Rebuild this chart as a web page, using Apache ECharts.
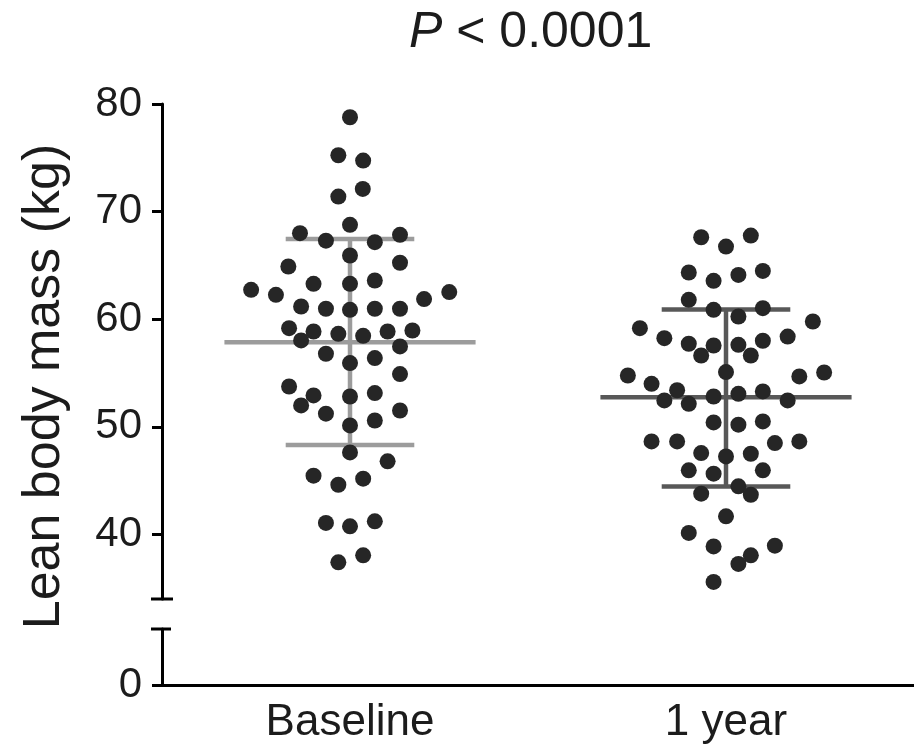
<!DOCTYPE html>
<html>
<head>
<meta charset="utf-8">
<script src="https://cdn.jsdelivr.net/npm/echarts@6/dist/echarts.min.js"></script>
<style>
  html, body { margin: 0; padding: 0; background: #fff; }
  #chart { width: 914px; height: 749px; }
</style>
</head>
<body>
<div id="chart"></div>
<script>
// Groups on the x axis
const categories = ['Baseline', '1 year'];

// Lean body mass (kg) of each subject, with its horizontal spread offset (category units)
const baselineValues = [
  78.77, 75.24, 74.74, 72.11, 71.40, 68.77, 68.00, 67.30, 67.16, 67.84,
  65.92, 64.90, 65.25, 63.29, 63.60, 63.29, 62.73, 62.27, 61.87, 62.52,
  61.18, 60.97, 60.87, 60.97, 60.97, 59.17, 58.86, 58.64, 58.46, 58.86,
  58.95, 58.03, 57.47, 56.79, 55.92, 56.39, 54.90, 53.75, 52.92, 51.99,
  52.82, 53.14, 51.22, 51.52, 50.13, 50.59, 47.62, 46.79, 45.46, 44.62,
  45.18, 41.07, 40.75, 41.22, 37.41, 38.06
];
const baselineOffsets = [
  0, -0.031, 0.035, 0.034, -0.031, 0, -0.133, -0.064, 0.066, 0.133,
  0, -0.164, 0.133, 0, 0.066, -0.097, -0.263, -0.197, 0.197, 0.264,
  -0.130, -0.064, 0, 0.066, 0.133, -0.162, -0.097, -0.031, 0.035, 0.100,
  0.166, -0.130, 0.133, -0.064, 0, 0.066, 0.133, -0.162, -0.097, -0.130,
  0, 0.066, -0.064, 0.133, 0, 0.066, 0, 0.100, -0.097, -0.031,
  0.035, -0.064, 0, 0.066, -0.031, 0.035
];
const yearValues = [
  67.62, 66.75, 67.77, 64.34, 63.57, 64.12, 64.49, 61.80, 60.87, 60.25,
  61.03, 59.79, 59.17, 58.24, 57.72, 57.56, 57.62, 58.00, 58.39, 56.63,
  56.63, 55.09, 54.77, 54.00, 54.68, 55.05, 53.40, 52.45, 52.14, 52.82,
  53.07, 53.29, 52.45, 50.41, 50.20, 50.50, 48.64, 48.64, 48.49, 48.64,
  47.56, 47.25, 47.50, 45.96, 45.65, 45.96, 43.79, 44.47, 43.69, 41.68,
  40.14, 38.89, 38.96, 38.06, 37.26, 35.59
];
const yearOffsets = [
  -0.066, 0, 0.066, -0.099, -0.033, 0.033, 0.098, -0.099, -0.033, 0.033,
  0.098, 0.231, -0.229, -0.164, -0.099, -0.033, 0.033, 0.098, 0.164, -0.066,
  0.066, 0, -0.261, -0.198, 0.195, 0.261, -0.130, -0.164, -0.099, -0.033,
  0.033, 0.098, 0.164, -0.033, 0.033, 0.098, -0.198, -0.130, 0.130, 0.195,
  -0.066, 0, 0.066, -0.099, -0.033, 0.098, -0.066, 0.033, 0.066, 0,
  -0.099, -0.033, 0.130, 0.066, 0.033, -0.033
];

// Mean and mean ± SD per group
const groupMeans = [57.85, 52.75];
const sdLower = [48.3, 44.45];
const sdUpper = [67.45, 60.9];

// Tick labels for the two axis segments
const upperTicks = [40, 50, 60, 70, 80];
const lowerTicks = [0];

const FONT = '"Liberation Sans", Arial, sans-serif';
const INK = '#1c1c1c';
const DOT = '#262626';
const summaryColors = ['#9c9c9c', '#585858'];

function toPoints(values, offsets, groupIndex) {
  return values.map((v, i) => [groupIndex + 1 + offsets[i], v]);
}

const summaryData = categories.map((c, i) => [i + 1, groupMeans[i], sdLower[i], sdUpper[i]]);

const chart = echarts.init(document.getElementById('chart'), null, { renderer: 'canvas' });

const axisLineStyle = { color: '#000', width: 3 };

const option = {
  animation: false,
  backgroundColor: '#fff',
  title: {
    text: '{i|P} < 0.0001',
    left: 409,
    top: 8,
    padding: 0,
    textStyle: {
      fontFamily: FONT,
      fontSize: 50,
      fontWeight: 'normal',
      color: INK,
      rich: {
        i: { fontFamily: FONT, fontSize: 50, fontStyle: 'italic', color: INK }
      }
    }
  },
  grid: [
    { left: 162, right: 0, top: 104, bottom: 150 },
    { left: 162, right: 0, top: 629, bottom: 64 }
  ],
  xAxis: [
    {
      gridIndex: 0, type: 'value', min: 0.5, max: 2.5, show: false
    },
    {
      gridIndex: 1, type: 'category', data: categories,
      axisLine: { lineStyle: axisLineStyle },
      axisTick: { alignWithLabel: true, length: 11, lineStyle: { color: '#000', width: 3 } },
      axisLabel: { fontFamily: FONT, fontSize: 44, color: INK, margin: 16 },
      splitLine: { show: false }
    }
  ],
  yAxis: [
    {
      gridIndex: 0, type: 'value', min: 34, max: 80,
      axisLine: { show: true, lineStyle: axisLineStyle },
      axisTick: { show: true, length: 10, customValues: upperTicks, lineStyle: { color: '#000', width: 3 } },
      axisLabel: { fontFamily: FONT, fontSize: 42, color: INK, margin: 20, customValues: upperTicks },
      splitLine: { show: false }
    },
    {
      gridIndex: 1, type: 'value', min: 0, max: 5,
      axisLine: { show: true, lineStyle: axisLineStyle },
      axisTick: { show: true, length: 10, customValues: lowerTicks, lineStyle: { color: '#000', width: 3 } },
      axisLabel: { fontFamily: FONT, fontSize: 42, color: INK, margin: 20, customValues: lowerTicks },
      splitLine: { show: false }
    }
  ],
  series: [
    {
      name: 'summary',
      type: 'custom',
      xAxisIndex: 0, yAxisIndex: 0,
      z: 1,
      data: summaryData,
      renderItem: function (params, api) {
        const x = api.value(0);
        const i = params.dataIndex;
        const color = summaryColors[i];
        const meanHalf = 0.334, capHalf = 0.171;
        const m0 = api.coord([x - meanHalf, api.value(1)]);
        const m1 = api.coord([x + meanHalf, api.value(1)]);
        const lo = api.coord([x, api.value(2)]);
        const hi = api.coord([x, api.value(3)]);
        const lo0 = api.coord([x - capHalf, api.value(2)]);
        const lo1 = api.coord([x + capHalf, api.value(2)]);
        const hi0 = api.coord([x - capHalf, api.value(3)]);
        const hi1 = api.coord([x + capHalf, api.value(3)]);
        const style = { stroke: color, lineWidth: 4.5 };
        return {
          type: 'group',
          children: [
            { type: 'line', shape: { x1: hi[0], y1: hi[1], x2: lo[0], y2: lo[1] }, style: style },
            { type: 'line', shape: { x1: m0[0], y1: m0[1], x2: m1[0], y2: m1[1] }, style: style },
            { type: 'line', shape: { x1: hi0[0], y1: hi0[1], x2: hi1[0], y2: hi1[1] }, style: style },
            { type: 'line', shape: { x1: lo0[0], y1: lo0[1], x2: lo1[0], y2: lo1[1] }, style: style }
          ]
        };
      }
    },
    {
      name: categories[0],
      type: 'scatter',
      xAxisIndex: 0, yAxisIndex: 0,
      z: 2,
      symbol: 'circle',
      symbolSize: 16,
      itemStyle: { color: DOT, opacity: 1 },
      data: toPoints(baselineValues, baselineOffsets, 0)
    },
    {
      name: categories[1],
      type: 'scatter',
      xAxisIndex: 0, yAxisIndex: 0,
      z: 2,
      symbol: 'circle',
      symbolSize: 16,
      itemStyle: { color: DOT, opacity: 1 },
      data: toPoints(yearValues, yearOffsets, 1)
    }
  ]
};

chart.setOption(option);

// Axis break caps and the rotated y-axis title, placed from the axes' own scales
const axisX = chart.convertToPixel({ xAxisIndex: 0 }, 0.5);
const upperEnd = chart.convertToPixel({ yAxisIndex: 0 }, 34);
const lowerEnd = chart.convertToPixel({ yAxisIndex: 1 }, 5);
const topY = chart.convertToPixel({ yAxisIndex: 0 }, 80);
const zeroY = chart.convertToPixel({ yAxisIndex: 1 }, 0);

chart.setOption({
  graphic: [
    {
      type: 'line',
      shape: { x1: axisX - 11, y1: upperEnd, x2: axisX + 11, y2: upperEnd },
      style: { stroke: '#000', lineWidth: 3 }
    },
    {
      type: 'line',
      shape: { x1: axisX - 11, y1: lowerEnd, x2: axisX + 9, y2: lowerEnd },
      style: { stroke: '#000', lineWidth: 3 }
    },
    {
      type: 'text',
      x: 45,
      y: (topY + zeroY) / 2 - 8,
      rotation: Math.PI / 2,
      style: {
        text: 'Lean body mass (kg)',
        font: '52px ' + FONT,
        fill: INK,
        align: 'center',
        verticalAlign: 'middle'
      }
    }
  ]
});
</script>
</body>
</html>
